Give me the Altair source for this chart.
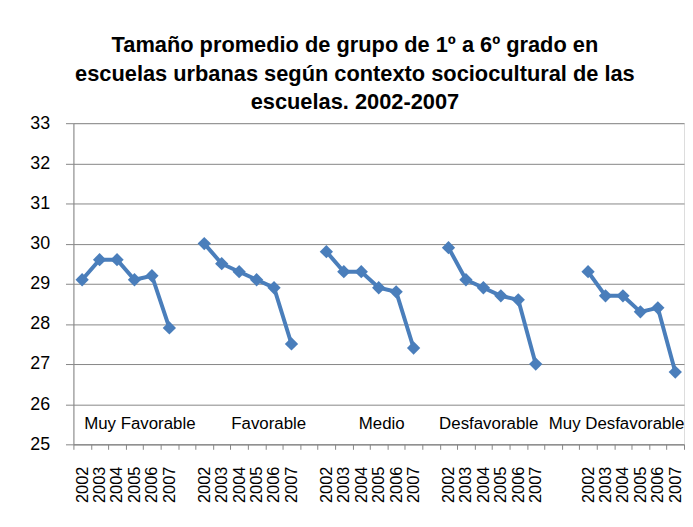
import altair as alt
import pandas as pd

groups = ["Muy Favorable", "Favorable", "Medio", "Desfavorable", "Muy Desfavorable"]
years = ["2002", "2003", "2004", "2005", "2006", "2007"]
muy_favorable = [29.1, 29.6, 29.6, 29.1, 29.2, 27.9]
favorable = [30.0, 29.5, 29.3, 29.1, 28.9, 27.5]
medio = [29.8, 29.3, 29.3, 28.9, 28.8, 27.4]
desfavorable = [29.9, 29.1, 28.9, 28.7, 28.6, 27.0]
muy_desfavorable = [29.3, 28.7, 28.7, 28.3, 28.4, 26.8]
blank_after = [1, 1, 1, 2, 0]  # empty categories following each group
y_ticks = [25, 26, 27, 28, 29, 30, 31, 32, 33]

series = [muy_favorable, favorable, medio, desfavorable, muy_desfavorable]

rows = []
domain = []
b = 0
for g, vals, nb in zip(groups, series, blank_after):
    for yr, v in zip(years, vals):
        k = f"{g}|{yr}"
        domain.append(k)
        rows.append({"key": k, "group": g, "year": yr, "value": v})
    for _ in range(nb):
        b += 1
        domain.append(f"blank{b}")
df = pd.DataFrame(rows)

W, H = 616, 324
step = W / len(domain)
BLUE = "#4A7EBB"
GREY = "#868686"
FONT = "Liberation Sans"

xscale = alt.Scale(domain=domain, paddingInner=0, paddingOuter=0)
yscale = alt.Scale(domain=[25, 33], nice=False, zero=False)

xaxis = alt.Axis(
    title=None,
    labelAngle=270,
    labelFontSize=16.5,
    labelFont=FONT,
    labelColor="black",
    labelPadding=17,
    labelOverlap=False,
    labelBound=False,
    labelExpr="indexof(datum.value + '', '|') >= 0 ? split(datum.value + '', '|')[1] : ''",
    tickBand="extent",
    tickSize=5,
    tickColor=GREY,
    domainColor=GREY,
    grid=False,
)
yaxis = alt.Axis(
    title=None,
    values=y_ticks,
    grid=True,
    gridColor=GREY,
    tickSize=8,
    tickColor=GREY,
    domainColor=GREY,
    labelFontSize=18,
    labelFont=FONT,
    labelColor="black",
    labelPadding=16,
)

base = alt.Chart(df)
line = base.mark_line(color=BLUE, strokeWidth=4).encode(
    x=alt.X("key:N", scale=xscale, axis=xaxis),
    y=alt.Y("value:Q", scale=yscale, axis=yaxis),
    detail="group:N",
)
pts = base.mark_point(shape="diamond", filled=True, size=180, color=BLUE, opacity=1).encode(
    x=alt.X("key:N", scale=xscale, axis=xaxis),
    y=alt.Y("value:Q", scale=yscale, axis=yaxis),
    detail="group:N",
)

# group name labels: anchored at each group's first year, shifted to where they sit
label_centers = [140, 270, 384, 492, 621]
label_y = 25.5
layers = [line, pts]
for g, cx in zip(groups, label_centers):
    idx = domain.index(f"{g}|2002")
    dx = cx - (73 + (idx + 0.5) * step)
    t = alt.Chart(pd.DataFrame({"key": [f"{g}|2002"], "label": [g]})).mark_text(
        dx=dx, fontSize=17, font=FONT, color="black", align="center", baseline="middle"
    ).encode(
        x=alt.X("key:N", scale=xscale, axis=xaxis),
        y=alt.datum(label_y),
        text="label:N",
    )
    layers.append(t)

chart = alt.layer(*layers).properties(
    width=W,
    height=H,
    title=alt.TitleParams(
        text=[
            "Tamaño promedio de grupo de 1º a 6º grado en",
            "escuelas urbanas según contexto sociocultural de las",
            "escuelas. 2002-2007",
        ],
        fontSize=22,
        font=FONT,
        fontWeight="bold",
        color="black",
        lineHeight=29,
        anchor="middle",
        offset=0,
        dx=-24,
    ),
    padding={"left": 21, "top": 24, "right": 0, "bottom": 0},
).configure_view(stroke=None).configure(background="white")

chart.save("out.html", embed_options={"renderer": "svg", "actions": False})
